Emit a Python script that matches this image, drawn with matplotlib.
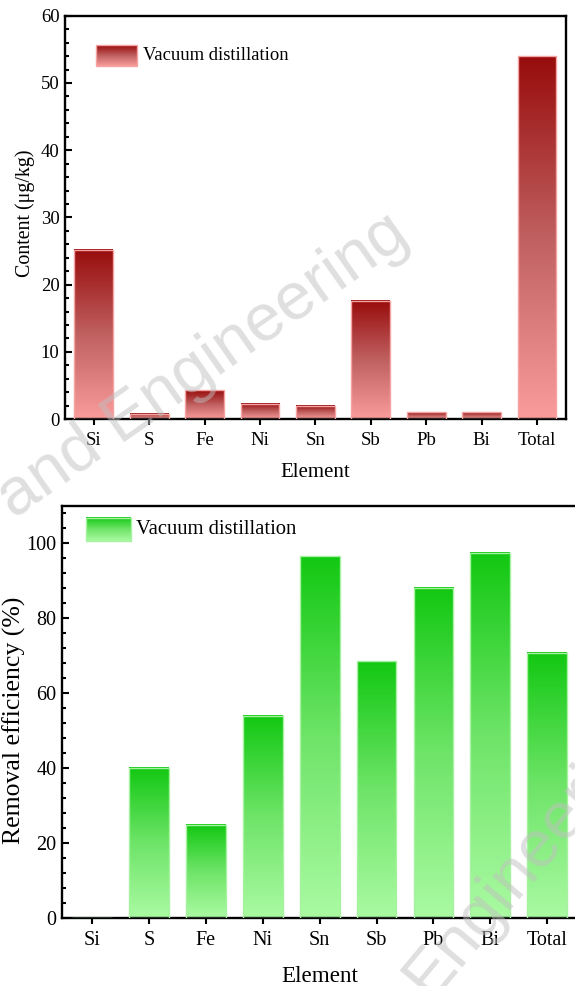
import numpy as np
import matplotlib.pyplot as plt
from matplotlib.colors import LinearSegmentedColormap

elements = ['Si', 'S', 'Fe', 'Ni', 'Sn', 'Sb', 'Pb', 'Bi', 'Total']
content = [25.2, 0.8, 4.3, 2.3, 2.0, 17.6, 1.0, 1.0, 54.0]
removal = [0.0, 40.0, 25.0, 54.0, 96.5, 68.5, 88.0, 97.5, 70.8]
series_name = 'Vacuum distillation'

plt.rcParams['font.family'] = ['Liberation Serif', 'DejaVu Serif']

red_cmap = LinearSegmentedColormap.from_list('reds', ['#fa9c9c', '#c06060', '#980c0c'])
green_cmap = LinearSegmentedColormap.from_list('greens', ['#aafaa2', '#6ee468', '#12c812'])
grad = np.linspace(0, 1, 256).reshape(-1, 1)


def gradient_bars(ax, values, cmap, edge):
    x = np.arange(len(values))
    bars = ax.bar(x, values, 0.7, facecolor='none', edgecolor=edge, linewidth=1.0, zorder=3)
    for b in bars:
        h = b.get_height()
        if h <= 0:
            continue
        x0 = b.get_x()
        ax.imshow(grad, cmap=cmap, origin='lower', aspect='auto', interpolation='bilinear',
                  extent=(x0, x0 + b.get_width(), 0, h), zorder=2)
    return x


def fake_legend(ax, box, text_x, text_y, cmap, edge, size):
    x0, x1, y0, y1 = box
    ax.imshow(grad, cmap=cmap, origin='lower', aspect='auto', extent=(x0, x1, y0, y1),
              transform=ax.transAxes, zorder=4)
    ax.add_patch(plt.Rectangle((x0, y0), x1 - x0, y1 - y0, transform=ax.transAxes,
                               facecolor='none', edgecolor=edge, linewidth=1.0, zorder=5))
    ax.text(text_x, text_y, series_name, transform=ax.transAxes, fontsize=size,
            va='center', ha='left')


def style_axes(ax, ymax, major, minor, tsize):
    ax.set_xlim(-0.52, 8.52)
    ax.set_ylim(0, ymax)
    ax.set_xticks(np.arange(len(elements)), elements)
    ax.set_yticks(np.arange(0, ymax + 0.1, major))
    ax.set_yticks(np.arange(0, ymax + 0.1, minor), minor=True)
    ax.tick_params(axis='y', which='major', direction='in', length=5, width=1.5, labelsize=tsize, pad=4)
    ax.tick_params(axis='y', which='minor', direction='in', length=3, width=1.5)
    ax.tick_params(axis='x', which='major', direction='out', length=4, width=1.5, labelsize=tsize, pad=5)
    for s in ax.spines.values():
        s.set_linewidth(1.7)


fig = plt.figure(figsize=(5.75, 9.86), dpi=100)

# content of impurities
ax1 = fig.add_axes([0.113, 0.575, 0.871, 0.409])
gradient_bars(ax1, content, red_cmap, '#f5a3a3')
style_axes(ax1, 60, 10, 2, 13.5)
ax1.set_xlabel('Element', fontsize=15)
ax1.set_ylabel('Content (μg/kg)', fontsize=14.4)
ax1.xaxis.set_label_coords(0.5, -0.11)
ax1.yaxis.set_label_coords(-0.06, 0.51)
fake_legend(ax1, (0.062, 0.144, 0.876, 0.928), 0.156, 0.902, red_cmap, '#f5a3a3', 13.4)

# removal efficiency
ax2 = fig.add_axes([0.1083, 0.0685, 0.895, 0.4185])
gradient_bars(ax2, removal, green_cmap, '#a6f2a0')
style_axes(ax2, 110, 20, 4, 14.5)
ax2.set_xlabel('Element', fontsize=16.6)
ax2.set_ylabel('Removal efficiency (%)', fontsize=18.5)
ax2.xaxis.set_label_coords(0.5, -0.115)
ax2.yaxis.set_label_coords(-0.071, 0.48)
fake_legend(ax2, (0.046, 0.133, 0.915, 0.971), 0.143, 0.943, green_cmap, '#a6f2a0', 14.9)

# journal watermark
wm = dict(fontsize=48, family='Liberation Sans', color='#c0c0c0', alpha=0.5,
          ha='left', va='baseline', rotation_mode='anchor')
fig.text(14 / 575, 1 - 520 / 986, 'and Engineering', rotation=35, **wm)
fig.text(430 / 575, 1 - 1000 / 986, 'Engineering', rotation=50, **wm)

fig.savefig('out.png', dpi=100)
